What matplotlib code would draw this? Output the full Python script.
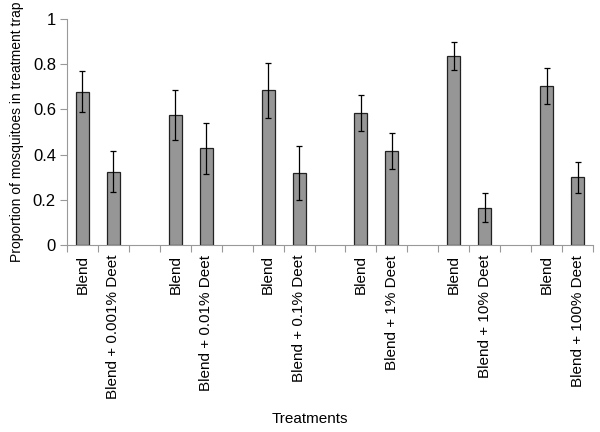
import matplotlib.pyplot as plt
from matplotlib.ticker import FixedLocator, FuncFormatter

plt.rcParams['font.family'] = ['Liberation Sans', 'DejaVu Sans']

labels = ['Blend', 'Blend + 0.001% Deet', '',
          'Blend', 'Blend + 0.01% Deet', '',
          'Blend', 'Blend + 0.1% Deet', '',
          'Blend', 'Blend + 1% Deet', '',
          'Blend', 'Blend + 10% Deet', '',
          'Blend', 'Blend + 100% Deet']
values = [0.678, 0.324, None,
          0.575, 0.428, None,
          0.684, 0.317, None,
          0.585, 0.416, None,
          0.836, 0.165, None,
          0.704, 0.300]
errors = [0.09, 0.09, None,
          0.11, 0.113, None,
          0.12, 0.12, None,
          0.08, 0.08, None,
          0.063, 0.063, None,
          0.078, 0.068]

fig = plt.figure(figsize=(6, 4.32), dpi=100)
ax = fig.add_axes([0.1117, 0.4329, 0.8766, 0.5231])

xs = [i for i, v in enumerate(values) if v is not None]
ys = [v for v in values if v is not None]
es = [e for e in errors if e is not None]

ax.bar(xs, ys, width=0.42, color='#969696', edgecolor='#222222', linewidth=0.9)
ax.errorbar(xs, ys, yerr=es, fmt='none', ecolor='black', elinewidth=0.9,
            capsize=2.5, capthick=0.9)

ax.set_xlim(-0.5, len(labels) - 0.5)
ax.set_ylim(0, 1)
ax.set_yticks([0, 0.2, 0.4, 0.6, 0.8, 1.0])
ax.yaxis.set_major_formatter(FuncFormatter(lambda v, p: f'{v:g}'))

ax.xaxis.set_major_locator(FixedLocator([i - 0.5 for i in range(len(labels) + 1)]))
ax.xaxis.set_major_formatter(FuncFormatter(lambda v, p: ''))
ax.set_xticks(range(len(labels)), labels, minor=True, rotation=90, fontsize=11)
ax.tick_params(axis='x', which='minor', length=0, pad=7)
ax.tick_params(axis='x', which='major', length=5, color='#999999', direction='out')
ax.tick_params(axis='y', length=5, color='#999999', labelsize=12, pad=3)

for s in ['top', 'right']:
    ax.spines[s].set_visible(False)
for s in ['left', 'bottom']:
    ax.spines[s].set_color('#999999')
    ax.spines[s].set_linewidth(0.8)

ax.set_ylabel('Proportion of mosquitoes in treatment trap', fontsize=10, labelpad=6)
fig.text(0.517, 0.03, 'Treatments', ha='center', va='center', fontsize=11)

fig.savefig('out.png', dpi=100)
